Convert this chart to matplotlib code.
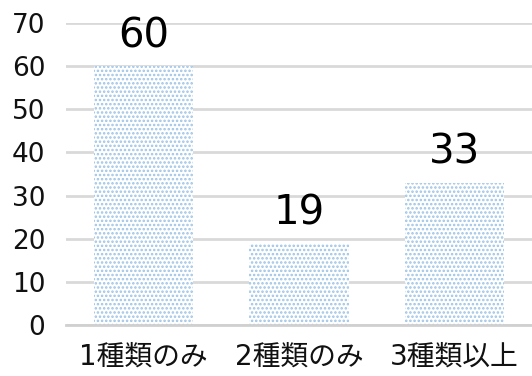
import matplotlib
matplotlib.use("Agg")
import matplotlib.pyplot as plt

categories = ["1種類のみ", "2種類のみ", "3種類以上"]
values = [60, 19, 33]
yticks = [0, 10, 20, 30, 40, 50, 60, 70]

plt.rcParams['font.family'] = ['DejaVu Sans', 'Noto Sans CJK JP']
plt.rcParams['hatch.linewidth'] = 1.2
plt.rcParams['hatch.color'] = '#9dc3e6'

fig = plt.figure(figsize=(5.32, 3.76), dpi=100)
ax = fig.add_axes([66/532, 1-325/376, 466/532, (325-23)/376])

x = range(len(categories))
bars = ax.bar(x, values, width=0.64, facecolor='white', edgecolor='#9dc3e6',
              hatch='....', linewidth=0, zorder=2)

for xi, v in zip(x, values):
    ax.annotate(str(v), (xi, v), xytext=(0, 7), textcoords='offset points',
                ha='center', va='bottom', fontsize=29, color='black')

ax.set_ylim(0, 70)
ax.set_xlim(-0.5, 2.5)
ax.set_yticks(yticks)
ax.set_xticks(list(x))
ax.set_xticklabels(categories, fontsize=20)
ax.tick_params(axis='y', labelsize=19, length=0, pad=15, labelcolor='#111111')
ax.tick_params(axis='x', length=0, pad=13, labelcolor='#111111')
ax.yaxis.grid(True, color='#d9d9d9', linewidth=2, zorder=0)
ax.set_axisbelow(True)
for s in ['top', 'right', 'left']:
    ax.spines[s].set_visible(False)
ax.spines['bottom'].set_color('#d0d0d0')
ax.spines['bottom'].set_linewidth(2)
ax.spines['bottom'].set_zorder(3)

fig.savefig("out.png", dpi=100)
